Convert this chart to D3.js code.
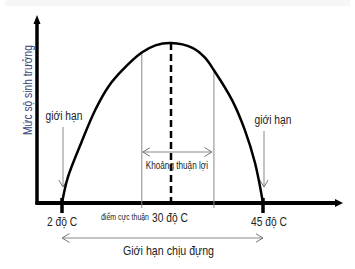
<!DOCTYPE html>
<html lang="vi">
<head>
<meta charset="utf-8">
<title>Giới hạn sinh thái</title>
<script src="https://cdn.jsdelivr.net/npm/d3@7"></script>
<style>
  body { margin: 0; background: #fff; }
  svg text { font-family: "Liberation Sans", Arial, sans-serif; fill: #222; }
</style>
</head>
<body>
<div id="chart"></div>
<script>
// temperature (độ C) vs growth level
var temps  = [2, 3.5, 7, 10.5, 14, 17.5, 22.5, 26, 30, 33.5, 35.5, 37, 40, 42, 43.7, 45];
var growth = [0, 16, 38, 58, 73, 83, 94, 98.5, 100, 97, 91, 83, 64, 46, 25, 0];

var limits = [2, 45];            // giới hạn dưới / trên
var optimum = 30;                // điểm cực thuận
var favorable = [22.5, 37];      // khoảng thuận lợi
var tickTemps = [2, 30, 45];
var tickLabels = ["2 độ C", "30 độ C", "45 độ C"];

var W = 355, H = 269;
var axisLeft = 37, axisBottom = 203, axisTop = 15, axisRight = 343;

var svg = d3.select("#chart").append("svg")
    .attr("width", W)
    .attr("height", H);

// the picture uses a narrow font, squeeze the text a bit
function label(px, py, str, size, anchor, rot) {
    return svg.append("text")
        .attr("transform", "translate(" + px + "," + py + ")" + (rot ? " rotate(" + rot + ")" : "") + " scale(0.82,1)")
        .attr("text-anchor", anchor)
        .attr("font-size", size)
        .text(str);
}

// faint band at the top of the picture
svg.append("rect")
    .attr("x", 5).attr("y", 0)
    .attr("width", 345).attr("height", 6)
    .attr("fill", "#f6f6f6");

// schematic scale: not linear across the optimum
var x = d3.scaleLinear()
    .domain([2, 30, 45])
    .range([62, 171, 263]);

var y = d3.scaleLinear()
    .domain([0, 100])
    .range([axisBottom, 43]);

var defs = svg.append("defs");
defs.append("marker")
    .attr("id", "chev")
    .attr("viewBox", "0 0 8 10")
    .attr("refX", 7.5).attr("refY", 5)
    .attr("markerWidth", 8).attr("markerHeight", 10)
    .attr("markerUnits", "userSpaceOnUse")
    .attr("orient", "auto-start-reverse")
  .append("path")
    .attr("d", "M0,0.5 L7.5,5 L0,9.5")
    .attr("fill", "none")
    .attr("stroke", "#777")
    .attr("stroke-width", 1);

var grey = "#888";

// axes
svg.append("line")
    .attr("x1", axisLeft).attr("y1", axisBottom + 1.5)
    .attr("x2", axisLeft).attr("y2", axisTop + 6)
    .attr("stroke", "#000").attr("stroke-width", 3.5);
svg.append("path")
    .attr("d", "M" + (axisLeft - 3.5) + "," + (axisTop + 9) + " L" + axisLeft + "," + axisTop + " L" + (axisLeft + 3.5) + "," + (axisTop + 9) + " Z")
    .attr("fill", "#000");

svg.append("line")
    .attr("x1", axisLeft - 1.5).attr("y1", axisBottom)
    .attr("x2", axisRight - 4).attr("y2", axisBottom)
    .attr("stroke", "#000").attr("stroke-width", 4);
svg.append("path")
    .attr("d", "M" + (axisRight - 8) + "," + (axisBottom - 4) + " L" + axisRight + "," + axisBottom + " L" + (axisRight - 8) + "," + (axisBottom + 4) + " Z")
    .attr("fill", "#000");

// favorable range lines
svg.selectAll("line.fav")
    .data(favorable)
    .enter().append("line")
    .attr("class", "fav")
    .attr("x1", function (d) { return x(d); })
    .attr("x2", function (d) { return x(d); })
    .attr("y1", function (d) {
        var i = temps.indexOf(d);
        return y(growth[i]);
    })
    .attr("y2", axisBottom + 5)
    .attr("stroke", grey).attr("stroke-width", 1);

// limit arrows
svg.selectAll("line.lim")
    .data(limits)
    .enter().append("line")
    .attr("class", "lim")
    .attr("x1", function (d) { return x(d) + 1; })
    .attr("x2", function (d) { return x(d) + 1; })
    .attr("y1", function (d, i) { return i ? 131 : 127; })
    .attr("y2", 187)
    .attr("stroke", grey).attr("stroke-width", 1)
    .attr("marker-end", "url(#chev)");

// khoảng thuận lợi
svg.append("line")
    .attr("x1", x(favorable[0]) + 1).attr("y1", 152)
    .attr("x2", x(favorable[1]) - 2).attr("y2", 152)
    .attr("stroke", grey).attr("stroke-width", 1)
    .attr("marker-start", "url(#chev)")
    .attr("marker-end", "url(#chev)");

// giới hạn chịu đựng
svg.append("line")
    .attr("x1", x(limits[0])).attr("y1", 238)
    .attr("x2", x(limits[1])).attr("y2", 238)
    .attr("stroke", grey).attr("stroke-width", 1)
    .attr("marker-start", "url(#chev)")
    .attr("marker-end", "url(#chev)");

// optimum dashed line
svg.append("line")
    .attr("x1", x(optimum)).attr("x2", x(optimum))
    .attr("y1", y(100)).attr("y2", axisBottom)
    .attr("stroke", "#000").attr("stroke-width", 2.5)
    .attr("stroke-dasharray", "7,4");

// curve
var line = d3.line()
    .x(function (d, i) { return x(temps[i]); })
    .y(function (d) { return y(d); })
    .curve(d3.curveCatmullRom.alpha(0.5));

svg.append("path")
    .datum(growth)
    .attr("d", line)
    .attr("fill", "none")
    .attr("stroke", "#000")
    .attr("stroke-width", 2.5);

// limit ticks
svg.selectAll("line.tick")
    .data(limits)
    .enter().append("line")
    .attr("class", "tick")
    .attr("x1", function (d) { return x(d); })
    .attr("x2", function (d) { return x(d); })
    .attr("y1", axisBottom - 5).attr("y2", axisBottom + 10)
    .attr("stroke", "#000").attr("stroke-width", 3.5);

// tick labels
tickTemps.forEach(function (t, i) {
    if (i == 1) label(x(t) - 19, 222, tickLabels[i], 12.5, "start");
    else label(x(t) + (i ? 6 : 0), 226, tickLabels[i], 12.5, "middle");
});

label(x(optimum) - 22, 220, "điểm cực thuận", 8.5, "end");
label((x(favorable[0]) + x(favorable[1])) / 2 - 1, 169, "Khoảng thuận lợi", 10, "middle");
label((x(limits[0]) + x(limits[1])) / 2 + 6, 255, "Giới hạn chịu đựng", 13, "middle");
label(64, 120, "giới hạn", 12.5, "middle");
label(273, 124, "giới hạn", 12.5, "middle");

label(32, 90, "Mức sộ sinh trưởng", 12.5, "middle", -90)
    .style("fill", "#34467a");
</script>
</body>
</html>
